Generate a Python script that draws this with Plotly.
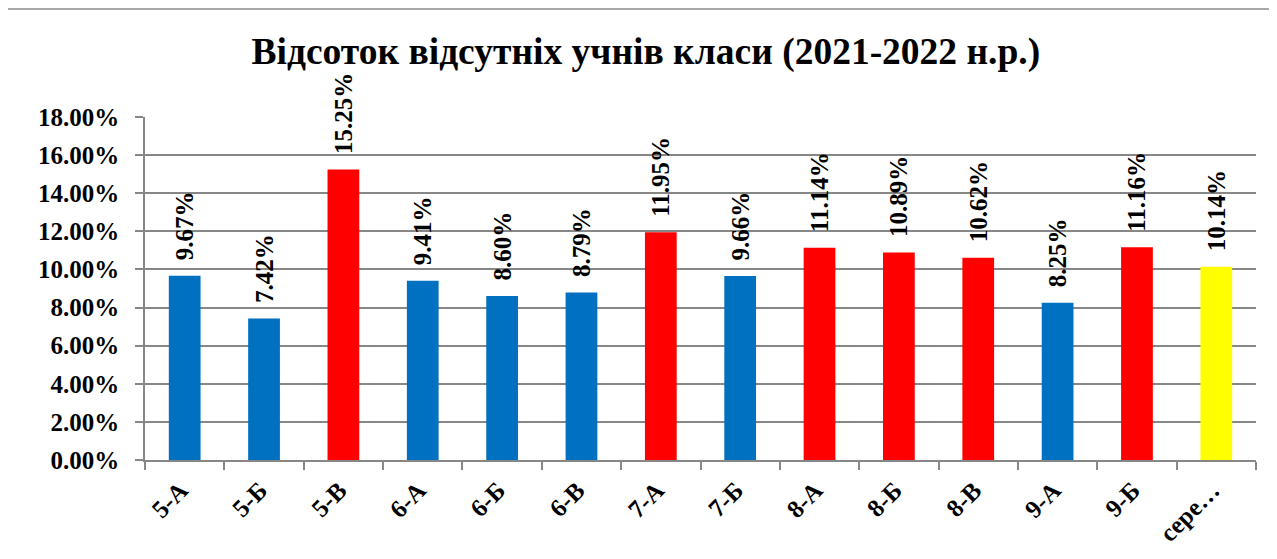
import plotly.graph_objects as go

classes = ["5-А", "5-Б", "5-В", "6-А", "6-Б", "6-В", "7-А", "7-Б",
           "8-А", "8-Б", "8-В", "9-А", "9-Б", "сере…"]
absent_share = [0.0967, 0.0742, 0.1525, 0.0941, 0.0860, 0.0879, 0.1195, 0.0966,
                0.1114, 0.1089, 0.1062, 0.0825, 0.1116, 0.1014]
bar_colors = ["#0070C0", "#0070C0", "#FF0000", "#0070C0", "#0070C0", "#0070C0", "#FF0000",
              "#0070C0", "#FF0000", "#FF0000", "#FF0000", "#0070C0", "#FF0000", "#FFFF00"]

serif = "Liberation Serif, Times New Roman, serif"

fig = go.Figure(go.Bar(
    x=classes, y=absent_share,
    marker=dict(color=bar_colors, line=dict(width=0)),
    # leading non-breaking spaces leave a gap between bar top and label
    texttemplate="\u00a0\u00a0%{y:.2%}", textposition="outside", textangle=-90,
    textfont=dict(family=serif, size=25, color="black", weight="bold"),
    constraintext="none", cliponaxis=False,
))

# margins compensate for the 8px body margin of the html page
fig.update_layout(
    width=1277, height=559,
    margin=dict(l=137, r=29, t=109, b=107),
    paper_bgcolor="white", plot_bgcolor="white",
    bargap=0.6,
    showlegend=False,
    title=dict(text="Відсоток відсутніх учнів класи (2021-2022 н.р.)",
               x=0.4995, xanchor="center", y=0.923, yanchor="middle",
               font=dict(family=serif, size=37.5, color="black", weight="bold")),
)
fig.update_yaxes(
    range=[0, 0.18], dtick=0.02, tickformat=".2%",
    showgrid=True, gridcolor="#878787", gridwidth=1.5,
    showline=True, linecolor="#878787", linewidth=1.5,
    ticks="outside", ticklen=8, tickcolor="#878787", tickwidth=1.5,
    tickfont=dict(family=serif, size=25, color="black", weight="bold"),
    zeroline=False, ticklabelstandoff=11, automargin=False,
)
fig.update_xaxes(
    tickangle=-45, tickson="boundaries",
    showline=True, linecolor="#878787", linewidth=1.5,
    ticks="outside", ticklen=8, tickcolor="#878787", tickwidth=1.5,
    tickfont=dict(family=serif, size=25, color="black", weight="bold"),
    ticklabelshift=-4, ticklabelstandoff=4,
    automargin=False,
)
# outer chart frame (top and left edges visible, the rest is cropped off)
fig.add_shape(type="rect", xref="paper", yref="paper",
              x0=-0.124, y0=-0.5, x1=1.2, y1=1.315,
              line=dict(color="#8c8c8c", width=1.5), fillcolor="rgba(0,0,0,0)")

fig.write_html("out.html")
